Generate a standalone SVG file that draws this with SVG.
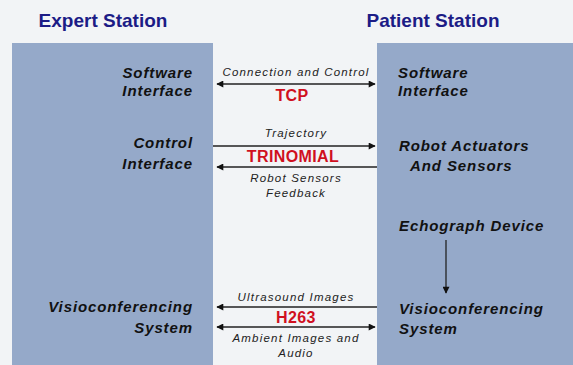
<svg xmlns="http://www.w3.org/2000/svg" width="573" height="365" viewBox="0 0 573 365">
<defs>
<style>
.title{font-family:"Liberation Sans",Arial,sans-serif;font-weight:bold;font-size:19px;fill:#1c1c86}
.node{font-family:"Liberation Sans",Arial,sans-serif;font-weight:bold;font-style:italic;font-size:15px;letter-spacing:0.9px;fill:#111}
.lbl{font-family:"Liberation Sans",Arial,sans-serif;font-style:italic;font-size:11.5px;letter-spacing:1.2px;fill:#222}
.proto{font-family:"Liberation Sans",Arial,sans-serif;font-weight:bold;font-size:16px;letter-spacing:0.4px;fill:#d0101e}
.ln{stroke:#222;stroke-width:1.3;fill:none}
</style>
<marker id="ah" viewBox="0 0 10 10" refX="9" refY="5" markerWidth="10" markerHeight="7" markerUnits="userSpaceOnUse" orient="auto-start-reverse">
<path d="M0,0 L10,5 L0,10 z" fill="#111"/>
</marker>
</defs>
<rect width="573" height="365" fill="#f2f4f6"/>
<rect x="12" y="43" width="201" height="322" fill="#95a9c9"/>
<rect x="377" y="43" width="196" height="322" fill="#95a9c9"/>
<g id="titles">
<text class="title" x="103" y="27" text-anchor="middle">Expert Station</text>
<text class="title" x="433" y="27" text-anchor="middle">Patient Station</text>
</g>
<g id="expert-software"><text class="node" text-anchor="end"><tspan x="193" y="78">Software</tspan><tspan x="193" y="96">Interface</tspan></text></g>
<g id="expert-control"><text class="node" text-anchor="end"><tspan x="193" y="148">Control</tspan><tspan x="193" y="169">Interface</tspan></text></g>
<g id="expert-visio"><text class="node" text-anchor="end"><tspan x="193" y="312">Visioconferencing</tspan><tspan x="193" y="333">System</tspan></text></g>
<g id="patient-software"><text class="node"><tspan x="398" y="78">Software</tspan><tspan x="398" y="96">Interface</tspan></text></g>
<g id="patient-robot"><text class="node"><tspan x="399" y="151">Robot Actuators</tspan><tspan x="410" y="171">And Sensors</tspan></text></g>
<g id="patient-echo"><text class="node" x="399" y="231">Echograph Device</text></g>
<g id="patient-visio"><text class="node"><tspan x="399" y="314">Visioconferencing</tspan><tspan x="399" y="334">System</tspan></text></g>
<g id="connectors">
<line class="ln" x1="217" y1="84" x2="375" y2="84" stroke="#555" marker-start="url(#ah)" marker-end="url(#ah)"/>
<text class="lbl" x="296" y="76" text-anchor="middle">Connection and Control</text>
<text class="proto" x="292" y="101" text-anchor="middle">TCP</text>
<line class="ln" x1="213" y1="146" x2="375" y2="146" marker-end="url(#ah)"/>
<text class="lbl" x="296" y="137" text-anchor="middle">Trajectory</text>
<text class="proto" x="293" y="162" text-anchor="middle">TRINOMIAL</text>
<line class="ln" x1="217" y1="167" x2="377" y2="167" marker-start="url(#ah)"/>
<text class="lbl" text-anchor="middle"><tspan x="296" y="182">Robot Sensors</tspan><tspan x="296" y="197">Feedback</tspan></text>
<line class="ln" x1="446" y1="240" x2="446" y2="293" marker-end="url(#ah)"/>
<line class="ln" x1="217" y1="307" x2="377" y2="307" marker-start="url(#ah)"/>
<text class="lbl" x="296" y="301" text-anchor="middle">Ultrasound Images</text>
<text class="proto" x="296" y="323" text-anchor="middle">H263</text>
<line class="ln" x1="217" y1="327" x2="375" y2="327" marker-start="url(#ah)" marker-end="url(#ah)"/>
<text class="lbl" text-anchor="middle"><tspan x="296" y="342">Ambient Images and</tspan><tspan x="296" y="357">Audio</tspan></text>
</g>
</svg>
